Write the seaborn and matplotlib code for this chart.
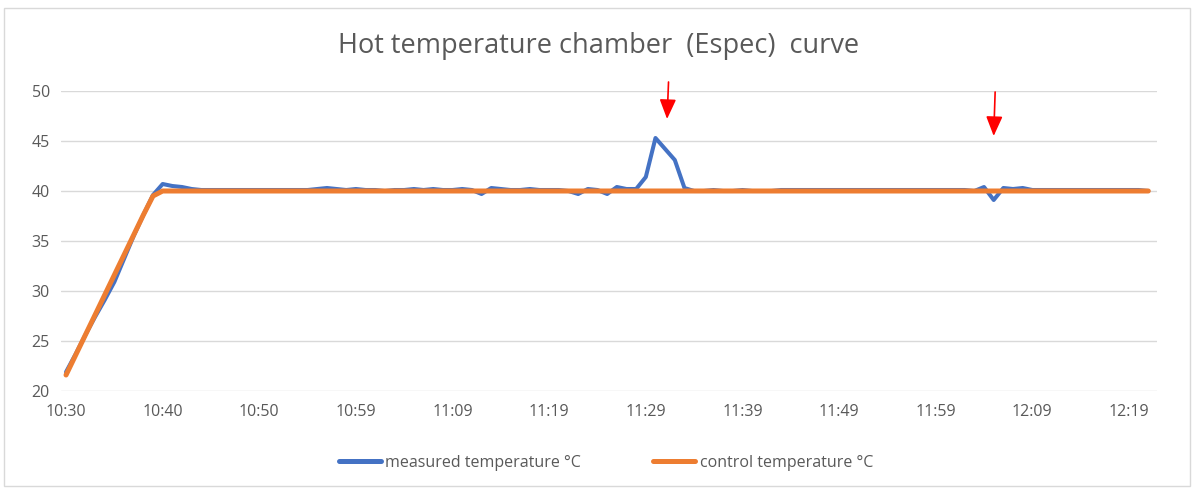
import matplotlib
matplotlib.use("Agg")
import matplotlib.pyplot as plt
import seaborn as sns
import pandas as pd
import numpy as np
from matplotlib.patches import Rectangle
from matplotlib.lines import Line2D

# ---- data ----
tick_labels = ["10:30", "10:40", "10:50", "10:59", "11:09", "11:19",
               "11:29", "11:39", "11:49", "11:59", "12:09", "12:19"]

measured = [
    21.9, 23.7, 25.6, 27.4, 29.1, 30.9, 33.2, 35.5, 37.6, 39.6,   # 0-9
    40.7, 40.5, 40.4, 40.2, 40.1, 40.1, 40.1, 40.1, 40.1, 40.1,   # 10-19
    40.1, 40.1, 40.1, 40.1, 40.1, 40.1, 40.2, 40.3, 40.2, 40.1,   # 20-29
    40.2, 40.1, 40.1, 40.0, 40.1, 40.1, 40.2, 40.1, 40.2, 40.1,   # 30-39
    40.1, 40.2, 40.1, 39.7, 40.3, 40.2, 40.1, 40.1, 40.2, 40.1,   # 40-49
    40.1, 40.1, 40.0, 39.7, 40.2, 40.1, 39.7, 40.4, 40.2, 40.2,   # 50-59
    41.4, 45.3, 44.2, 43.1, 40.3, 40.0, 40.0, 40.1, 40.0, 40.0,   # 60-69
    40.1, 40.0, 40.0, 40.0, 40.1, 40.1, 40.1, 40.1, 40.1, 40.1,   # 70-79
    40.1, 40.1, 40.1, 40.1, 40.1, 40.1, 40.1, 40.1, 40.1, 40.1,   # 80-89
    40.1, 40.1, 40.1, 40.1, 40.0, 40.4, 39.1, 40.3, 40.2, 40.3,   # 90-99
    40.1, 40.1, 40.1, 40.1, 40.1, 40.1, 40.1, 40.1, 40.1, 40.1,   # 100-109
    40.1, 40.1, 40.0,                                             # 110-112
]

control = [
    21.6, 23.6, 25.6, 27.6, 29.6, 31.6, 33.6, 35.6, 37.6, 39.5,   # 0-9
] + [40.0] * 103                                                  # 10-112

series_names = ["measured temperature °C", "control temperature °C"]
title_text = "Hot temperature chamber  (Espec)  curve"

# ---- build long-form table ----
n = len(measured)
df = pd.DataFrame({
    "idx": list(range(n)) * 2,
    "value": measured + control,
    "series": [series_names[0]] * n + [series_names[1]] * n,
})

sns.set_theme(style="white")
plt.rcParams["font.family"] = ["Open Sans", "DejaVu Sans"]

fig = plt.figure(figsize=(11.97, 4.92), dpi=100)
ax = fig.add_axes([61 / 1197, 1 - 391 / 492, (1157 - 61) / 1197, (391 - 91) / 492])

palette = {series_names[0]: "#4472C4", series_names[1]: "#ED7D31"}
sns.lineplot(data=df, x="idx", y="value", hue="series", palette=palette,
             ax=ax, legend=False, sort=False)
lines = ax.get_lines()
lines[0].set_linewidth(2.9)
lines[1].set_linewidth(3.6)
for ln in lines:
    ln.set_solid_joinstyle("round")
    ln.set_solid_capstyle("round")

ax.set_xlim(-0.52, 112.9)
ax.set_ylim(20, 50)
ax.set_yticks(np.arange(20, 51, 5))
ax.set_xticks(np.arange(0, 10 * len(tick_labels), 10))
ax.set_xticklabels(tick_labels)
ax.set_xlabel("")
ax.set_ylabel("")
ax.grid(axis="y", color="#D9D9D9", linewidth=1.0)
ax.grid(axis="x", visible=False)
ax.set_axisbelow(True)
for s in ax.spines.values():
    s.set_visible(False)
ax.tick_params(axis="both", length=0, labelsize=11.5, colors="#595959")
ax.tick_params(axis="x", pad=9)
ax.tick_params(axis="y", pad=8)

# title
fig.text(0.5, 1 - 46 / 492, title_text, ha="center", va="center",
         fontsize=19.5, color="#595959")

# legend
handles = [Line2D([], [], color="#4472C4", lw=3.6),
           Line2D([], [], color="#ED7D31", lw=3.6)]
leg = fig.legend(handles, series_names, loc="center",
                 bbox_to_anchor=(606 / 1197, 1 - 463 / 492), ncol=2, frameon=False,
                 fontsize=11.5, handlelength=2.6, handletextpad=0.3,
                 columnspacing=4.5)
for t in leg.get_texts():
    t.set_color("#595959")

# red arrows
for xa, y_tail, y_tip in [(62.2, 50.9, 47.2), (96.0, 49.9, 45.5)]:
    ax.annotate("", xy=(xa, y_tip), xytext=(xa + 0.15, y_tail),
                annotation_clip=False,
                arrowprops=dict(arrowstyle="-|>,head_length=1.0,head_width=0.42",
                                color="#FF0000", lw=1.2, shrinkA=0, shrinkB=0))

# chart-area border
fig.add_artist(Rectangle((4 / 1197, 1 - 486 / 492), 1186 / 1197, 478 / 492,
                         transform=fig.transFigure, fill=False,
                         edgecolor="#D9D9D9", linewidth=1.0))

fig.savefig("out.png", dpi=100)
